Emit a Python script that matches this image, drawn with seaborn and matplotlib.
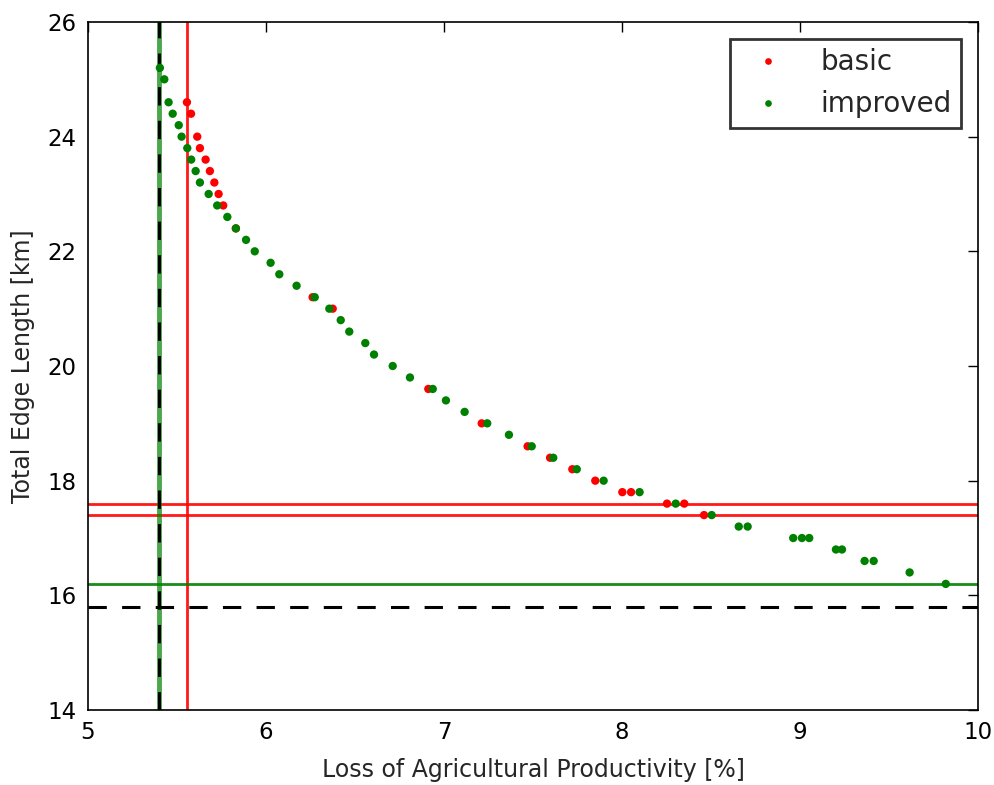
import pandas as pd
import numpy as np
import matplotlib
matplotlib.use("Agg")
import matplotlib.pyplot as plt
import seaborn as sns

# basic
basic_x = [5.556, 5.579, 5.614, 5.629, 5.661, 5.685, 5.710, 5.734, 5.760, 5.831,
           6.262, 6.375, 6.912, 7.212, 7.470, 7.596, 7.721, 7.850, 8.002, 8.051,
           8.253, 8.350, 8.461]
basic_y = [24.6, 24.4, 24.0, 23.8, 23.6, 23.4, 23.2, 23.0, 22.8, 22.4,
           21.2, 21.0, 19.6, 19.0, 18.6, 18.4, 18.2, 18.0, 17.8, 17.8,
           17.6, 17.6, 17.4]

# improved
improved_x = [5.404, 5.429, 5.453, 5.476, 5.510, 5.526, 5.558, 5.580, 5.605, 5.629,
              5.678, 5.726, 5.783, 5.831, 5.888, 5.937, 6.026, 6.075, 6.172, 6.274,
              6.356, 6.420, 6.468, 6.558, 6.607, 6.712, 6.809, 6.937, 7.011, 7.116,
              7.243, 7.365, 7.493, 7.614, 7.746, 7.897, 8.099, 8.302, 8.504, 8.656,
              8.706, 8.962, 9.011, 9.052, 9.202, 9.236, 9.363, 9.414, 9.616, 9.819]
improved_y = [25.2, 25.0, 24.6, 24.4, 24.2, 24.0, 23.8, 23.6, 23.4, 23.2,
              23.0, 22.8, 22.6, 22.4, 22.2, 22.0, 21.8, 21.6, 21.4, 21.2,
              21.0, 20.8, 20.6, 20.4, 20.2, 20.0, 19.8, 19.6, 19.4, 19.2,
              19.0, 18.8, 18.6, 18.4, 18.2, 18.0, 17.8, 17.6, 17.4, 17.2,
              17.2, 17.0, 17.0, 17.0, 16.8, 16.8, 16.6, 16.6, 16.4, 16.2]

# reference lines
basic_vline = 5.556
basic_hlines = [17.6, 17.4]
improved_vline = 5.40
improved_hline = 16.2
bound_x = 5.40
bound_y = 15.8

df = pd.concat([
    pd.DataFrame({'loss': basic_x, 'length': basic_y, 'method': 'basic'}),
    pd.DataFrame({'loss': improved_x, 'length': improved_y, 'method': 'improved'}),
], ignore_index=True)

sns.set_style("white")
plt.rcParams.update({
    'font.family': ['DejaVu Sans'],
    'xtick.direction': 'in', 'ytick.direction': 'in',
    'xtick.top': True, 'ytick.right': True,
    'xtick.major.size': 7, 'ytick.major.size': 7,
    'xtick.major.width': 1, 'ytick.major.width': 1,
    'axes.edgecolor': 'black', 'axes.linewidth': 1.2,
})

fig = plt.figure(figsize=(9.95, 7.85), dpi=100)
ax = fig.add_axes([0.0884, 0.0955, 0.8945, 0.8765])

ax.axvline(basic_vline, color='red', lw=2, alpha=0.9)
for h in basic_hlines:
    ax.axhline(h, color='red', lw=2, alpha=0.9)
ax.axvline(improved_vline, color='green', lw=3.5, alpha=0.7)
ax.axhline(improved_hline, color='green', lw=2, alpha=0.9)
ax.axvline(bound_x, color='black', lw=2.2, ls='--', dashes=(6, 5))
ax.axhline(bound_y, color='black', lw=2.2, ls='--', dashes=(6, 5))

sns.scatterplot(data=df, x='loss', y='length', hue='method',
                palette={'basic': 'red', 'improved': 'green'},
                s=36, linewidth=0, ax=ax, zorder=3)

ax.set_xlim(5, 10)
ax.set_ylim(14, 26)
ax.set_xticks(np.arange(5, 11, 1))
ax.set_yticks(np.arange(14, 27, 2))
ax.tick_params(labelsize=16.5, colors='black', pad=8)
ax.set_xlabel('Loss of Agricultural Productivity [%]', fontsize=17, labelpad=10)
ax.set_ylabel('Total Edge Length [km]', fontsize=17, labelpad=9)
for s in ax.spines.values():
    s.set_visible(True)
    s.set_color('black')

leg = ax.legend(loc='upper right', fontsize=20, frameon=True, fancybox=False,
                markerscale=0.8, handletextpad=0.9, borderpad=0.35,
                labelspacing=0.5, borderaxespad=0.6)
leg.get_frame().set_edgecolor('black')
leg.get_frame().set_linewidth(2)
leg.set_title(None)

fig.savefig('out.png', dpi=100)
